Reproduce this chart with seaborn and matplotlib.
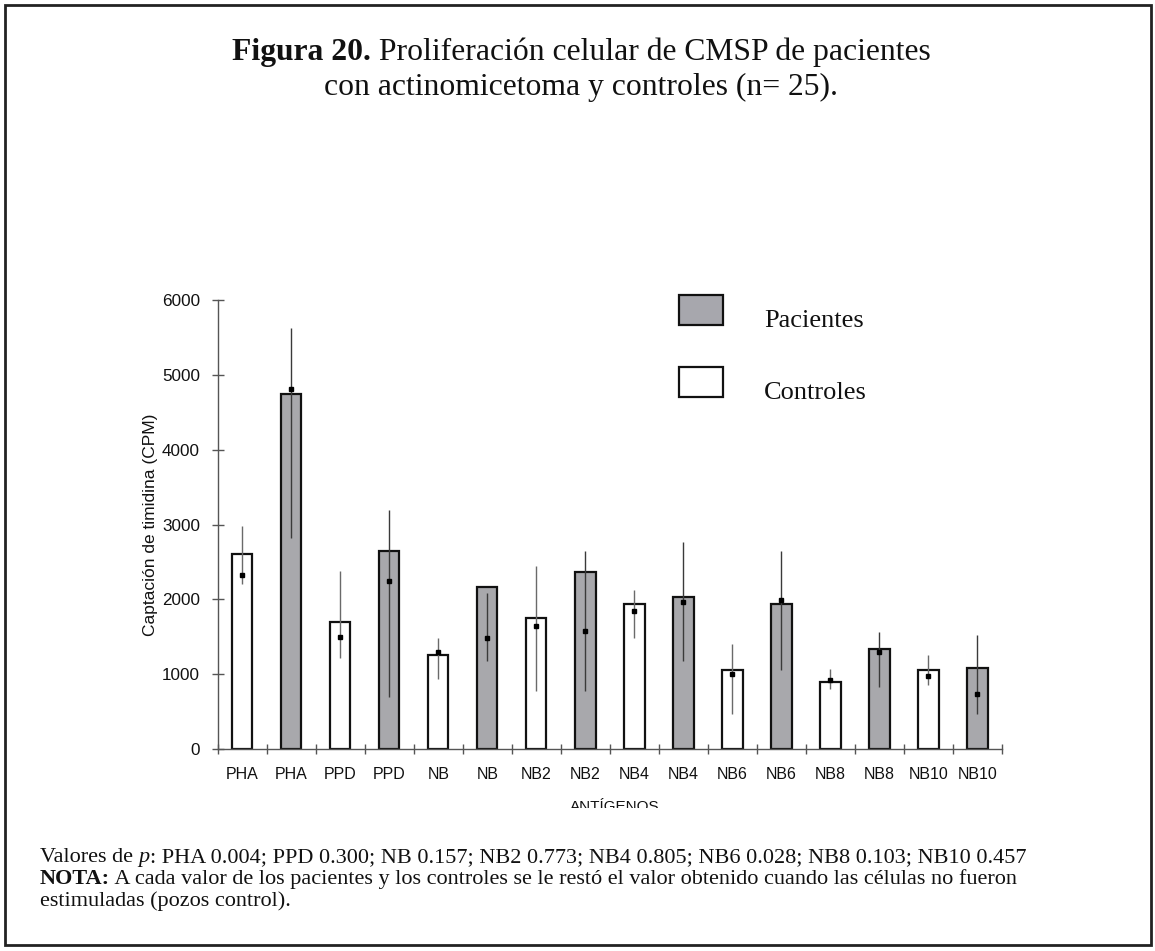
import matplotlib
matplotlib.use("Agg")
import matplotlib.pyplot as plt
import seaborn as sns
import pandas as pd
import numpy as np
from matplotlib.patches import Rectangle
from matplotlib.transforms import Bbox, TransformedBbox

# ---------------- data ----------------
antigens = ["PHA", "PHA", "PPD", "PPD", "NB", "NB", "NB2", "NB2",
            "NB4", "NB4", "NB6", "NB6", "NB8", "NB8", "NB10", "NB10"]
groups = ["Controles", "Pacientes"] * 8
bar_values = [2610, 4740, 1700, 2650, 1250, 2170, 1750, 2360,
              1940, 2030, 1060, 1940, 900, 1340, 1060, 1080]
dot_values = [2320, 4810, 1500, 2240, 1300, 1480, 1650, 1580,
              1840, 1960, 1000, 1990, 920, 1290, 970, 740]
err_low = [2200, 2820, 1220, 700, 930, 1170, 770, 770,
           1490, 1180, 470, 1050, 800, 830, 850, 470]
err_high = [2980, 5620, 2380, 3200, 1480, 2090, 2440, 2640,
            2130, 2760, 1400, 2650, 1070, 1560, 1250, 1520]
p_values = ["PHA 0.004", "PPD 0.300", "NB 0.157", "NB2 0.773",
            "NB4 0.805", "NB6 0.028", "NB8 0.103", "NB10 0.457"]

df = pd.DataFrame({
    "key": [f"{a}_{i}" for i, a in enumerate(antigens)],
    "antigen": antigens,
    "group": groups,
    "value": bar_values,
})

# ---------------- figure ----------------
sns.set_style("white")
plt.rcParams["font.family"] = ["Liberation Sans", "DejaVu Sans"]
serif = ["Liberation Serif", "DejaVu Serif"]
INK = "#111111"
W, H = 1155, 951

fig = plt.figure(figsize=(11.55, 9.51), dpi=100)
ax = fig.add_axes([0.1887, 0.2124, 0.6788, 0.4721])

gray = "#a7a7ad"
sns.barplot(data=df, x="key", y="value", hue="group", order=df["key"],
            hue_order=["Controles", "Pacientes"],
            palette={"Controles": "white", "Pacientes": gray},
            dodge=False, width=0.41, edgecolor=INK, linewidth=1.6,
            legend=False, ax=ax)

xs = np.arange(len(antigens))
for i in xs:
    c = "#6a6a6a" if groups[i] == "Controles" else "#3a3a3a"
    ax.vlines(i, err_low[i], err_high[i], color=c, linewidth=1.0, zorder=4)
ax.plot(xs, dot_values, linestyle="none", marker="s", markersize=2.6,
        color="black", zorder=5)

ax.set_xlim(-0.5, len(antigens) - 0.5)
ax.set_ylim(0, 6000)
ax.set_yticks(np.arange(0, 6001, 1000))
ax.set_xticks(xs)
ax.set_xticklabels(antigens)
ax.set_xticks(np.arange(-0.5, len(antigens), 1.0), minor=True)
ax.tick_params(axis="both", which="both", bottom=True, left=True)
ax.tick_params(axis="x", which="major", length=0, pad=13, labelsize=11.5,
               labelcolor=INK)
ax.tick_params(axis="x", which="minor", length=7, direction="inout",
               width=1, color="#555555")
ax.tick_params(axis="y", which="major", length=8, direction="inout",
               width=1, color="#555555", labelsize=12.3, pad=9,
               labelcolor=INK)
ax.set_xlabel("")
ax.set_ylabel("Captación de timidina (CPM)", fontsize=12.5, labelpad=3,
              color=INK)

for s in ["top", "right"]:
    ax.spines[s].set_visible(False)
for s in ["left", "bottom"]:
    ax.spines[s].set_color("#555555")
    ax.spines[s].set_linewidth(1.0)

# x-axis title, partly hidden below
t = fig.text(0.532, 1 - 811 / H, "ANTÍGENOS", ha="center", va="baseline",
             fontsize=11, color=INK)
t.set_clip_box(TransformedBbox(Bbox([[0, 1 - 808 / H], [1, 1]]), fig.transFigure))
t.set_clip_on(True)

# legend (manual boxes)
for (lbl, col, ytop) in [("Pacientes", gray, 295), ("Controles", "white", 367)]:
    fig.patches.append(Rectangle((679 / W, 1 - (ytop + 30) / H), 44 / W, 30 / H,
                                 transform=fig.transFigure, facecolor=col,
                                 edgecolor=INK, linewidth=1.6))
    fig.text(764 / W, 1 - (ytop + 26) / H, lbl, family=serif, fontsize=19,
             va="center", ha="left", color=INK)

renderer = fig.canvas.get_renderer()


def mixed_line(x_px, y_px, parts, size, center=False):
    """Draw a line of text made of (string, weight, style) parts."""
    texts = []
    for s, w, st in parts:
        texts.append(fig.text(0, 1 - y_px / H, s, family=serif, fontsize=size,
                              fontweight=w, fontstyle=st, ha="left",
                              va="baseline", color=INK))
    widths = [tt.get_window_extent(renderer).width for tt in texts]
    total = sum(widths)
    x = x_px - total / 2 if center else x_px
    for tt, wd in zip(texts, widths):
        tt.set_x(x / W)
        x += wd


# title
mixed_line(W / 2 + 4, 60, [("Figura 20.", "bold", "normal"),
                           (" Proliferación celular de CMSP de pacientes", "normal", "normal")],
           22.8, center=True)
mixed_line(W / 2 + 4, 95, [("con actinomicetoma y controles (n= 25).", "normal", "normal")],
           22.8, center=True)

# notes
mixed_line(40, 862, [("Valores de ", "normal", "normal"), ("p", "normal", "italic"),
                     (": " + "; ".join(p_values), "normal", "normal")], 16)
mixed_line(40, 884, [("NOTA:", "bold", "normal"),
                     (" A cada valor de los pacientes y los controles se le restó el valor "
                      "obtenido cuando las células no fueron", "normal", "normal")], 16)
mixed_line(40, 906, [("estimuladas (pozos control).", "normal", "normal")], 16)

# frame around the figure
fig.patches.append(Rectangle((5 / W, 6 / H), 1146 / W, 940 / H,
                             transform=fig.transFigure, fill=False,
                             edgecolor="#222222", linewidth=2))

fig.savefig("out.png", dpi=100)
